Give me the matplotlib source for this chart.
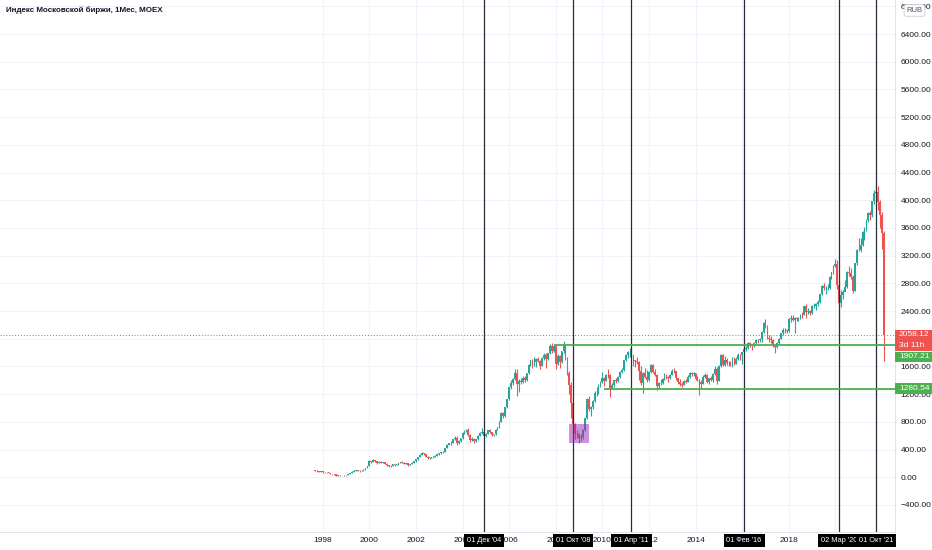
import matplotlib
matplotlib.use("Agg")
import matplotlib.pyplot as plt
from matplotlib.patches import Rectangle
from matplotlib.transforms import blended_transform_factory
import numpy as np

plt.rcParams['font.family'] = ['Liberation Sans', 'DejaVu Sans']

# monthly candles, Sep 1997 .. Feb 2022, open = close of the month before
first_open = 100
closes = [
    95, 86, 80, 84,                                                       # 1997 Sep-Dec
    70, 76, 72, 66, 50, 46, 44, 25, 28, 32, 30, 26,                       # 1998
    38, 46, 62, 80, 96, 104, 96, 90, 98, 112, 134, 160,                   # 1999
    232, 218, 248, 232, 206, 222, 212, 218, 196, 172, 160, 168,           # 2000
    190, 176, 188, 204, 222, 212, 196, 202, 178, 192, 212, 232,           # 2001
    262, 296, 326, 346, 330, 296, 276, 286, 282, 300, 314, 330,           # 2002
    345, 360, 372, 420, 470, 490, 500, 550, 562, 500, 522, 567,           # 2003
    640, 672, 682, 612, 540, 560, 520, 550, 600, 640, 650, 602,           # 2004
    630, 680, 650, 610, 620, 690, 720, 800, 930, 880, 1010, 1125,         # 2005
    1300, 1360, 1420, 1500, 1350, 1390, 1380, 1440, 1400, 1500, 1620, 1693,  # 2006
    1640, 1660, 1710, 1680, 1610, 1720, 1770, 1710, 1790, 1900, 1830, 1889,  # 2007
    1634, 1753, 1660, 1818, 1889, 1706, 1503, 1336, 1078, 765, 625, 619,  # 2008
    570, 580, 689, 851, 1124, 987, 1022, 1107, 1219, 1220, 1326, 1370,    # 2009
    1432, 1395, 1480, 1474, 1296, 1326, 1405, 1384, 1451, 1518, 1549, 1688,  # 2010
    1767, 1810, 1813, 1760, 1690, 1683, 1662, 1529, 1366, 1500, 1453, 1402,  # 2011
    1518, 1625, 1518, 1480, 1321, 1363, 1363, 1426, 1470, 1450, 1428, 1475,  # 2012
    1537, 1530, 1432, 1382, 1346, 1338, 1397, 1373, 1445, 1503, 1486, 1504,  # 2013
    1421, 1417, 1371, 1348, 1455, 1476, 1376, 1431, 1411, 1490, 1568, 1397,  # 2014
    1603, 1767, 1626, 1691, 1648, 1655, 1637, 1715, 1640, 1713, 1770, 1761,  # 2015
    1805, 1853, 1872, 1937, 1904, 1891, 1941, 1983, 1978, 1991, 2095, 2232,  # 2016
    2175, 2006, 1995, 1977, 1898, 1879, 1934, 1999, 2077, 2126, 2127, 2110,  # 2017
    2290, 2300, 2274, 2302, 2286, 2300, 2348, 2346, 2475, 2389, 2404, 2369,  # 2018
    2478, 2480, 2498, 2534, 2641, 2762, 2727, 2728, 2735, 2888, 2958, 3046,  # 2019
    3076, 2779, 2510, 2633, 2675, 2743, 2964, 2946, 2893, 2692, 3088, 3289,  # 2020
    3276, 3356, 3541, 3594, 3713, 3811, 3782, 3986, 4103, 4116, 3970, 3787,  # 2021
    3530, 2058.12,                                                        # 2022 Jan-Feb
]
highs = [
    102, 100, 90, 88,
    88, 80, 80, 76, 68, 54, 52, 46, 34, 36, 36, 34,
    40, 50, 66, 84, 104, 110, 112, 100, 104, 116, 138, 166,
    246, 240, 262, 256, 238, 230, 232, 226, 224, 200, 178, 176,
    196, 196, 194, 210, 228, 230, 216, 208, 206, 198, 216, 238,
    268, 300, 332, 360, 356, 334, 302, 292, 294, 306, 320, 338,
    352, 366, 380, 426, 476, 498, 520, 556, 600, 592, 534, 574,
    648, 686, 696, 712, 622, 580, 574, 556, 606, 660, 706, 660,
    640, 690, 700, 660, 632, 696, 730, 808, 940, 940, 1020, 1134,
    1310, 1400, 1440, 1560, 1570, 1420, 1440, 1460, 1460, 1510, 1630, 1700,
    1710, 1730, 1720, 1740, 1700, 1730, 1790, 1790, 1800, 1920, 1940, 1900,
    1900, 1780, 1760, 1830, 1970, 1920, 1730, 1530, 1380, 1090, 790, 680,
    640, 620, 700, 860, 1140, 1170, 1030, 1120, 1240, 1300, 1340, 1390,
    1520, 1450, 1490, 1560, 1490, 1360, 1410, 1430, 1460, 1530, 1580, 1700,
    1780, 1830, 1860, 1870, 1770, 1700, 1730, 1680, 1600, 1520, 1580, 1550,
    1530, 1630, 1640, 1560, 1490, 1380, 1420, 1440, 1500, 1490, 1460, 1490,
    1560, 1580, 1540, 1440, 1420, 1380, 1410, 1420, 1470, 1520, 1520, 1520,
    1510, 1460, 1420, 1400, 1470, 1500, 1490, 1440, 1460, 1500, 1600, 1590,
    1620, 1780, 1780, 1750, 1720, 1680, 1680, 1740, 1730, 1730, 1790, 1780,
    1815, 1870, 1900, 1960, 1950, 1920, 1960, 1990, 2000, 2010, 2110, 2240,
    2290, 2200, 2050, 2040, 2000, 1910, 1950, 2010, 2090, 2150, 2150, 2140,
    2300, 2340, 2340, 2320, 2320, 2320, 2360, 2380, 2480, 2500, 2440, 2420,
    2490, 2520, 2520, 2560, 2650, 2770, 2800, 2760, 2790, 2900, 2970, 3060,
    3150, 3140, 2840, 2700, 2700, 2850, 2980, 3050, 3020, 2920, 3100, 3300,
    3450, 3460, 3560, 3610, 3730, 3830, 3850, 3990, 4150, 4292, 4210, 4000,
    3830, 3560,
]
lows = [
    93, 80, 74, 76,
    62, 66, 68, 62, 46, 40, 38, 20, 18, 24, 26, 22,
    24, 34, 44, 58, 76, 90, 90, 78, 86, 94, 108, 130,
    156, 206, 214, 220, 196, 200, 204, 204, 190, 166, 150, 152,
    164, 170, 172, 184, 200, 206, 190, 192, 160, 174, 188, 208,
    228, 256, 290, 320, 318, 286, 262, 270, 274, 278, 296, 308,
    326, 338, 350, 368, 416, 462, 470, 494, 540, 470, 480, 514,
    560, 630, 650, 600, 510, 530, 496, 510, 540, 590, 620, 576,
    586, 620, 636, 590, 596, 612, 680, 712, 792, 850, 876, 1000,
    1120, 1270, 1330, 1400, 1170, 1230, 1340, 1360, 1370, 1390, 1490, 1600,
    1580, 1600, 1590, 1660, 1560, 1600, 1700, 1580, 1700, 1780, 1800, 1810,
    1560, 1620, 1580, 1650, 1800, 1690, 1470, 1200, 850, 500, 560, 570,
    500, 530, 560, 670, 840, 960, 880, 980, 1080, 1170, 1200, 1300,
    1360, 1320, 1390, 1440, 1160, 1270, 1300, 1360, 1370, 1440, 1500, 1540,
    1680, 1720, 1740, 1730, 1600, 1590, 1640, 1400, 1330, 1220, 1430, 1370,
    1390, 1510, 1500, 1460, 1260, 1280, 1330, 1350, 1410, 1420, 1380, 1420,
    1470, 1500, 1400, 1340, 1320, 1300, 1330, 1360, 1370, 1440, 1460, 1460,
    1410, 1390, 1190, 1280, 1340, 1440, 1360, 1340, 1390, 1370, 1470, 1340,
    1390, 1590, 1600, 1610, 1620, 1610, 1610, 1590, 1620, 1630, 1700, 1690,
    1630, 1760, 1830, 1850, 1880, 1840, 1880, 1920, 1940, 1950, 1960, 2090,
    2150, 1990, 1960, 1940, 1880, 1790, 1860, 1920, 1990, 2060, 2080, 2080,
    2100, 2240, 2250, 2090, 2260, 2250, 2280, 2300, 2340, 2300, 2360, 2340,
    2360, 2450, 2420, 2480, 2510, 2630, 2700, 2650, 2700, 2720, 2860, 2940,
    3030, 2720, 2074, 2460, 2570, 2700, 2730, 2900, 2860, 2660, 2690, 3060,
    3270, 3260, 3340, 3420, 3560, 3690, 3720, 3760, 3950, 4060, 3860, 3600,
    3300, 1681,
]
start_year, start_month = 1997, 9

# marked dates (vertical lines) and their captions
mark_dates = [(2004, 12), (2008, 10), (2011, 4), (2016, 2), (2020, 3), (2021, 10)]
mark_labels = ["01 Дек '04", "01 Окт '08", "01 Апр '11", "01 Фев '16", "02 Мар '20", "01 Окт '21"]

# support / resistance levels and where they start
levels = [1907.21, 1280.54]
level_starts = [(2007, 12), (2010, 2)]
last_price = 2058.12
countdown = "3d 11h"

# highlighted crash-bottom zone: (from, to), (low, high)
zone_dates = [(2008, 8), (2009, 6)]
zone_prices = [500, 770]

year_ticks = list(range(1998, 2021, 2))
price_ticks = list(range(-400, 6801, 400))

GREEN = '#26a69a'
RED = '#ef5350'
LEVEL = '#4caf50'
TXT = '#131722'
FS = 6


def ym(y, m):
    return y + (m - 1) / 12.0


n = len(closes)
x = ym(start_year, start_month) + np.arange(n) / 12.0
c = np.array(closes, dtype=float)
o = np.concatenate([[first_open], c[:-1]])
hi = np.array(highs, dtype=float)
lo = np.array(lows, dtype=float)
col = np.where(c >= o, GREEN, RED)

fig = plt.figure(figsize=(9.32, 5.5), dpi=100)
ax = fig.add_axes([0.0, 18 / 550, 895 / 932, 532 / 550])
ax.set_xlim(1984.15, 2022.56)
ax.set_ylim(-790, 6892)

ax.vlines(x, lo, hi, colors=col, lw=0.8, zorder=3)
ax.bar(x, c - o, bottom=o, width=0.075, color=col, lw=0, zorder=4)

for (yy, mm) in mark_dates:
    ax.axvline(ym(yy, mm), color='#2a2e39', lw=0.9, zorder=5)

for lv, (yy, mm) in zip(levels, level_starts):
    ax.hlines(lv, ym(yy, mm), 2022.56, color=LEVEL, lw=1.3, zorder=5)

ax.axhline(last_price, color=RED, lw=0.7, ls=(0, (1, 2)), zorder=2)

(z0y, z0m), (z1y, z1m) = zone_dates
ax.add_patch(Rectangle((ym(z0y, z0m), zone_prices[0]), ym(z1y, z1m) - ym(z0y, z0m),
                       zone_prices[1] - zone_prices[0], facecolor='#9c27b0', alpha=0.5,
                       lw=0, zorder=6))

# axes styling
ax.grid(True, color='#f0f3fa', lw=0.8, zorder=0)
ax.set_axisbelow(True)
for s in ['top', 'left']:
    ax.spines[s].set_visible(False)
for s in ['right', 'bottom']:
    ax.spines[s].set_color('#e0e3eb')
    ax.spines[s].set_linewidth(0.8)
ax.yaxis.tick_right()
ax.set_yticks(price_ticks)
ax.set_yticklabels(['%.2f' % v if v >= 0 else '\u2212%.2f' % -v for v in price_ticks])
ax.set_xticks(year_ticks)
ax.set_xticklabels([str(v) for v in year_ticks])
ax.tick_params(axis='y', length=0, pad=4, labelsize=FS, labelcolor=TXT)
ax.tick_params(axis='x', length=0, pad=3.5, labelsize=FS, labelcolor=TXT)

# right price-scale boxes
bt = blended_transform_factory(ax.transAxes, ax.transData)
unit_px = 532 / (6892 + 790)
bh = 10.5 / unit_px
boxes = [
    (last_price, '%.2f' % last_price, RED),
    (last_price - bh, countdown, RED),
    (last_price - 2 * bh - 1 / unit_px, '%.2f' % levels[0], LEVEL),
    (levels[1], '%.2f' % levels[1], LEVEL),
]
for yc, label, fc in boxes:
    ax.add_patch(Rectangle((1.0, yc - bh / 2), 0.045, bh, transform=bt, facecolor=fc,
                           lw=0, clip_on=False, zorder=20))
    ax.text(1.0045, yc, label, transform=bt, color='white', fontsize=FS, va='center',
            ha='left', zorder=21, clip_on=False)

# date captions under the vertical lines
bx = blended_transform_factory(ax.transData, ax.transAxes)
for (yy, mm), label in zip(mark_dates, mark_labels):
    ax.text(ym(yy, mm), -0.016, label, transform=bx, color='white', fontsize=5.3,
            ha='center', va='center', zorder=21, clip_on=False,
            bbox=dict(boxstyle='square,pad=0.4', fc='black', ec='none'))

fig.text(0.006, 1 - 10 / 550, 'Индекс Московской биржи, 1Мес, MOEX', fontsize=5.8,
         fontweight='bold', color=TXT, va='center', ha='left')
fig.text(914.5 / 932, 1 - 10.5 / 550, 'RUB', fontsize=5.5, color='#50535e', va='center',
         ha='center', bbox=dict(boxstyle='round,pad=0.3', fc='white', ec='#d1d4dc', lw=0.7),
         zorder=30)

fig.savefig('out.png', dpi=100, facecolor='white')
